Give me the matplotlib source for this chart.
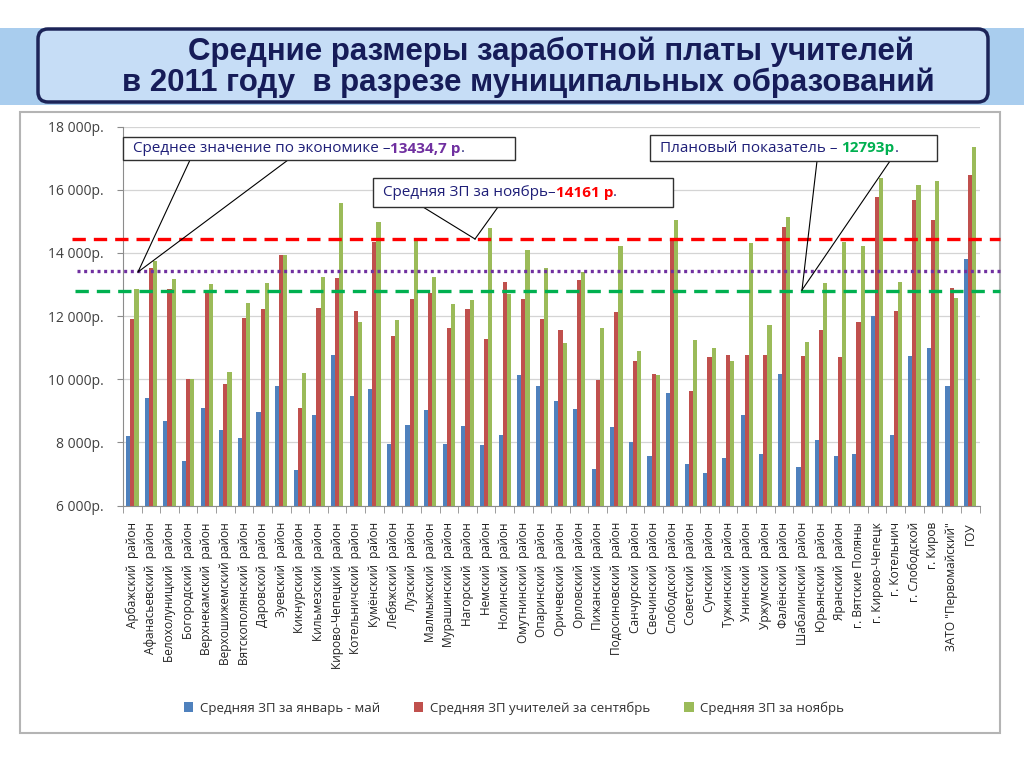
import numpy as np
import matplotlib.pyplot as plt
import matplotlib.transforms as mtransforms
from matplotlib.patches import Rectangle, FancyBboxPatch, Patch
from matplotlib.ticker import FuncFormatter, MultipleLocator

plt.rcParams['font.family'] = ['Open Sans', 'DejaVu Sans']

districts = [
    'Арбажский  район', 'Афанасьевский  район', 'Белохолуницкий  район', 'Богородский  район',
    'Верхнекамский  район', 'Верхошижемский район', 'Вятскополянский  район', 'Даровской  район',
    'Зуевский  район', 'Кикнурский  район', 'Кильмезский  район', 'Кирово-Чепецкий  район',
    'Котельничский  район', 'Кумёнский  район', 'Лебяжский  район', 'Лузский  район',
    'Малмыжский  район', 'Мурашинский  район', 'Нагорский  район', 'Немский  район',
    'Нолинский  район', 'Омутнинский  район', 'Опаринский  район', 'Оричевский  район',
    'Орловский  район', 'Пижанский  район', 'Подосиновский  район', 'Санчурский  район',
    'Свечинский  район', 'Слободской  район', 'Советский  район', 'Сунский  район',
    'Тужинский  район', 'Унинский  район', 'Уржумский  район', 'Фалёнский  район',
    'Шабалинский  район', 'Юрьянский  район', 'Яранский  район', 'г. Вятские Поляны',
    'г. Кирово-Чепецк', 'г. Котельнич', 'г. Слободской', 'г. Киров',
    'ЗАТО "Первомайский"', 'ГОУ',
]

# средняя ЗП за январь - май
jan_may = [8200, 9410, 8690, 7410, 9080, 8400, 8140, 8970, 9770, 7110,
           8880, 10760, 9470, 9680, 7960, 8540, 9020, 7960, 8510, 7900,
           8240, 10130, 9770, 9320, 9060, 7150, 8470, 8000, 7560, 9570,
           7320, 7030, 7510, 8870, 7620, 10170, 7230, 8080, 7560, 7620,
           12000, 8230, 10730, 10980, 9770, 13790]
# средняя ЗП учителей за сентябрь
sept = [11890, 13510, 12870, 10020, 12740, 9840, 11950, 12230, 13940, 9080,
        12260, 13210, 12160, 14340, 11360, 12530, 12720, 11630, 12230, 11260,
        13080, 12530, 11900, 11550, 13130, 9970, 12130, 10570, 10170, 14360,
        9640, 10690, 10780, 10780, 10750, 14830, 10720, 11570, 10690, 11800,
        15760, 12160, 15660, 15030, 12880, 16450]
# средняя ЗП за ноябрь
nov = [12860, 13750, 13180, 10020, 13020, 10240, 12400, 13060, 13940, 10190,
       13250, 15580, 11810, 14990, 11870, 14440, 13230, 12370, 12520, 14780,
       12700, 14090, 13510, 11130, 13400, 11610, 14220, 10890, 10120, 15040,
       11240, 10990, 10560, 14310, 11710, 15120, 11180, 13040, 14330, 14220,
       16370, 13080, 16160, 16290, 12570, 17340]

econ_avg = 13434.7     # среднее по экономике
plan_value = 12793     # плановый показатель
nov_avg_label = 14161  # подпись в выноске
nov_avg_line = 14430   # где линия нарисована на слайде

series_names = ['Средняя ЗП за январь - май', 'Средняя ЗП учителей за сентябрь',
                'Средняя ЗП за ноябрь']
series_colors = ['#4f81bd', '#c0504d', '#9bbb59']

W, H = 1024, 768
fig = plt.figure(figsize=(W / 100, H / 100), dpi=100)

# background layer in pixel coords
bg = fig.add_axes([0, 0, 1, 1], zorder=0)
bg.set_xlim(0, W)
bg.set_ylim(H, 0)
bg.axis('off')
bg.add_patch(Rectangle((0, 28), W, 77, facecolor='#a9cdee', edgecolor='none'))
bg.add_patch(FancyBboxPatch((38, 29), 950, 73, boxstyle='round,pad=0,rounding_size=10',
                            facecolor='#c6ddf6', edgecolor='#1c2458', lw=2.5))
bg.text(551, 52, 'Средние размеры заработной платы учителей', ha='center', va='center',
        fontsize=22.5, fontweight='bold', color='#161c58', family='Liberation Sans')
bg.text(528, 83, 'в 2011 году  в разрезе муниципальных образований', ha='center', va='center',
        fontsize=22.5, fontweight='bold', color='#161c58', family='Liberation Sans')
bg.add_patch(Rectangle((20, 112), 980, 621, facecolor='white', edgecolor='#b4b4b4', lw=1.5))

# chart
ax = fig.add_axes([123 / W, 1 - 505.5 / H, (979.5 - 123) / W, 379 / H], zorder=1)
ax.patch.set_alpha(0)
x = np.arange(len(districts))
bw = 0.222
for k, (vals, col) in enumerate(zip([jan_may, sept, nov], series_colors)):
    ax.bar(x + (k - 1) * bw, vals, width=bw, color=col, label=series_names[k], zorder=2)

ax.set_ylim(6000, 18000)
ax.set_xlim(-0.5, len(districts) - 0.5)
ax.yaxis.set_major_locator(MultipleLocator(2000))
ax.yaxis.set_major_formatter(FuncFormatter(lambda v, p: f'{int(v):,}'.replace(',', ' ') + 'р.'))
ax.grid(axis='y', color='#d4d4d4', lw=0.9, zorder=0)
ax.set_axisbelow(True)
for s in ['top', 'right']:
    ax.spines[s].set_visible(False)
for s in ['left', 'bottom']:
    ax.spines[s].set_color('#8c8c8c')
ax.set_xticks(x)
ax.set_xticklabels(districts, rotation=90, fontsize=8.6, color='#202020')
ax.set_xticks(np.arange(-0.5, len(districts)), minor=True)
ax.tick_params(axis='x', which='major', length=0, pad=12)
ax.tick_params(axis='x', which='minor', length=5, color='#8c8c8c')
ax.tick_params(axis='y', length=4, color='#8c8c8c', labelsize=10, labelcolor='#404040', pad=10)

# overlay layer
fg = fig.add_axes([0, 0, 1, 1], zorder=5)
fg.set_xlim(0, W)
fg.set_ylim(H, 0)
fg.axis('off')
blend = mtransforms.blended_transform_factory(fg.transData, ax.transData)
fg.plot([72, 1000], [nov_avg_line] * 2, transform=blend, color='#ff0000', lw=2.4,
        linestyle=(0, (4, 2.4)), clip_on=False)
fg.plot([77, 1000], [econ_avg] * 2, transform=blend, color='#7030a0', lw=2.4,
        linestyle=(0, (0.9, 1.1)), clip_on=False)
fg.plot([75, 1000], [plan_value] * 2, transform=blend, color='#00b050', lw=2.4,
        linestyle=(0, (4, 2.4)), clip_on=False)

navy = '#1f1f78'
renderer = fig.canvas.get_renderer()


def callout(box, tip, feet, parts, size=11):
    x0, y0, x1, y1 = box
    for fx in feet:
        fg.plot([fx, tip[0]], [y1, tip[1]], color='black', lw=0.8)
    fg.add_patch(Rectangle((x0, y0), x1 - x0, y1 - y0, facecolor='white',
                           edgecolor='#303030', lw=1.0, zorder=3))
    cx = x0 + 10
    for s, col, wt in parts:
        t = fg.text(cx, (y0 + y1) / 2, s, color=col, fontweight=wt, fontsize=size,
                    ha='left', va='center', zorder=4)
        cx += t.get_window_extent(renderer).width


callout((123, 137, 515, 160), (138, 272), [190, 288],
        [('Среднее значение по экономике –', navy, 'normal'),
         (f'{econ_avg:.1f}'.replace('.', ',') + ' р', '#7030a0', 'bold'),
         ('.', navy, 'normal')])
callout((650, 135, 937, 161), (802, 290), [817, 890],
        [('Плановый показатель – ', navy, 'normal'),
         (f'{plan_value}р', '#00b050', 'bold'),
         ('.', navy, 'normal')])
callout((373, 178, 673, 207), (475, 239), [423, 498],
        [('Средняя ЗП за ноябрь–', navy, 'normal'),
         (f'{nov_avg_label} р', '#ff0000', 'bold'),
         ('.', navy, 'normal')])

handles = [Patch(facecolor=c) for c in series_colors]
fig.legend(handles, series_names, loc='center', bbox_to_anchor=(0.502, 1 - 708 / H), ncol=3,
           frameon=False, fontsize=9.5, handlelength=0.7, handleheight=0.7,
           columnspacing=2.6, handletextpad=0.5, labelcolor='#303030')

fig.savefig('out.png', dpi=100)
